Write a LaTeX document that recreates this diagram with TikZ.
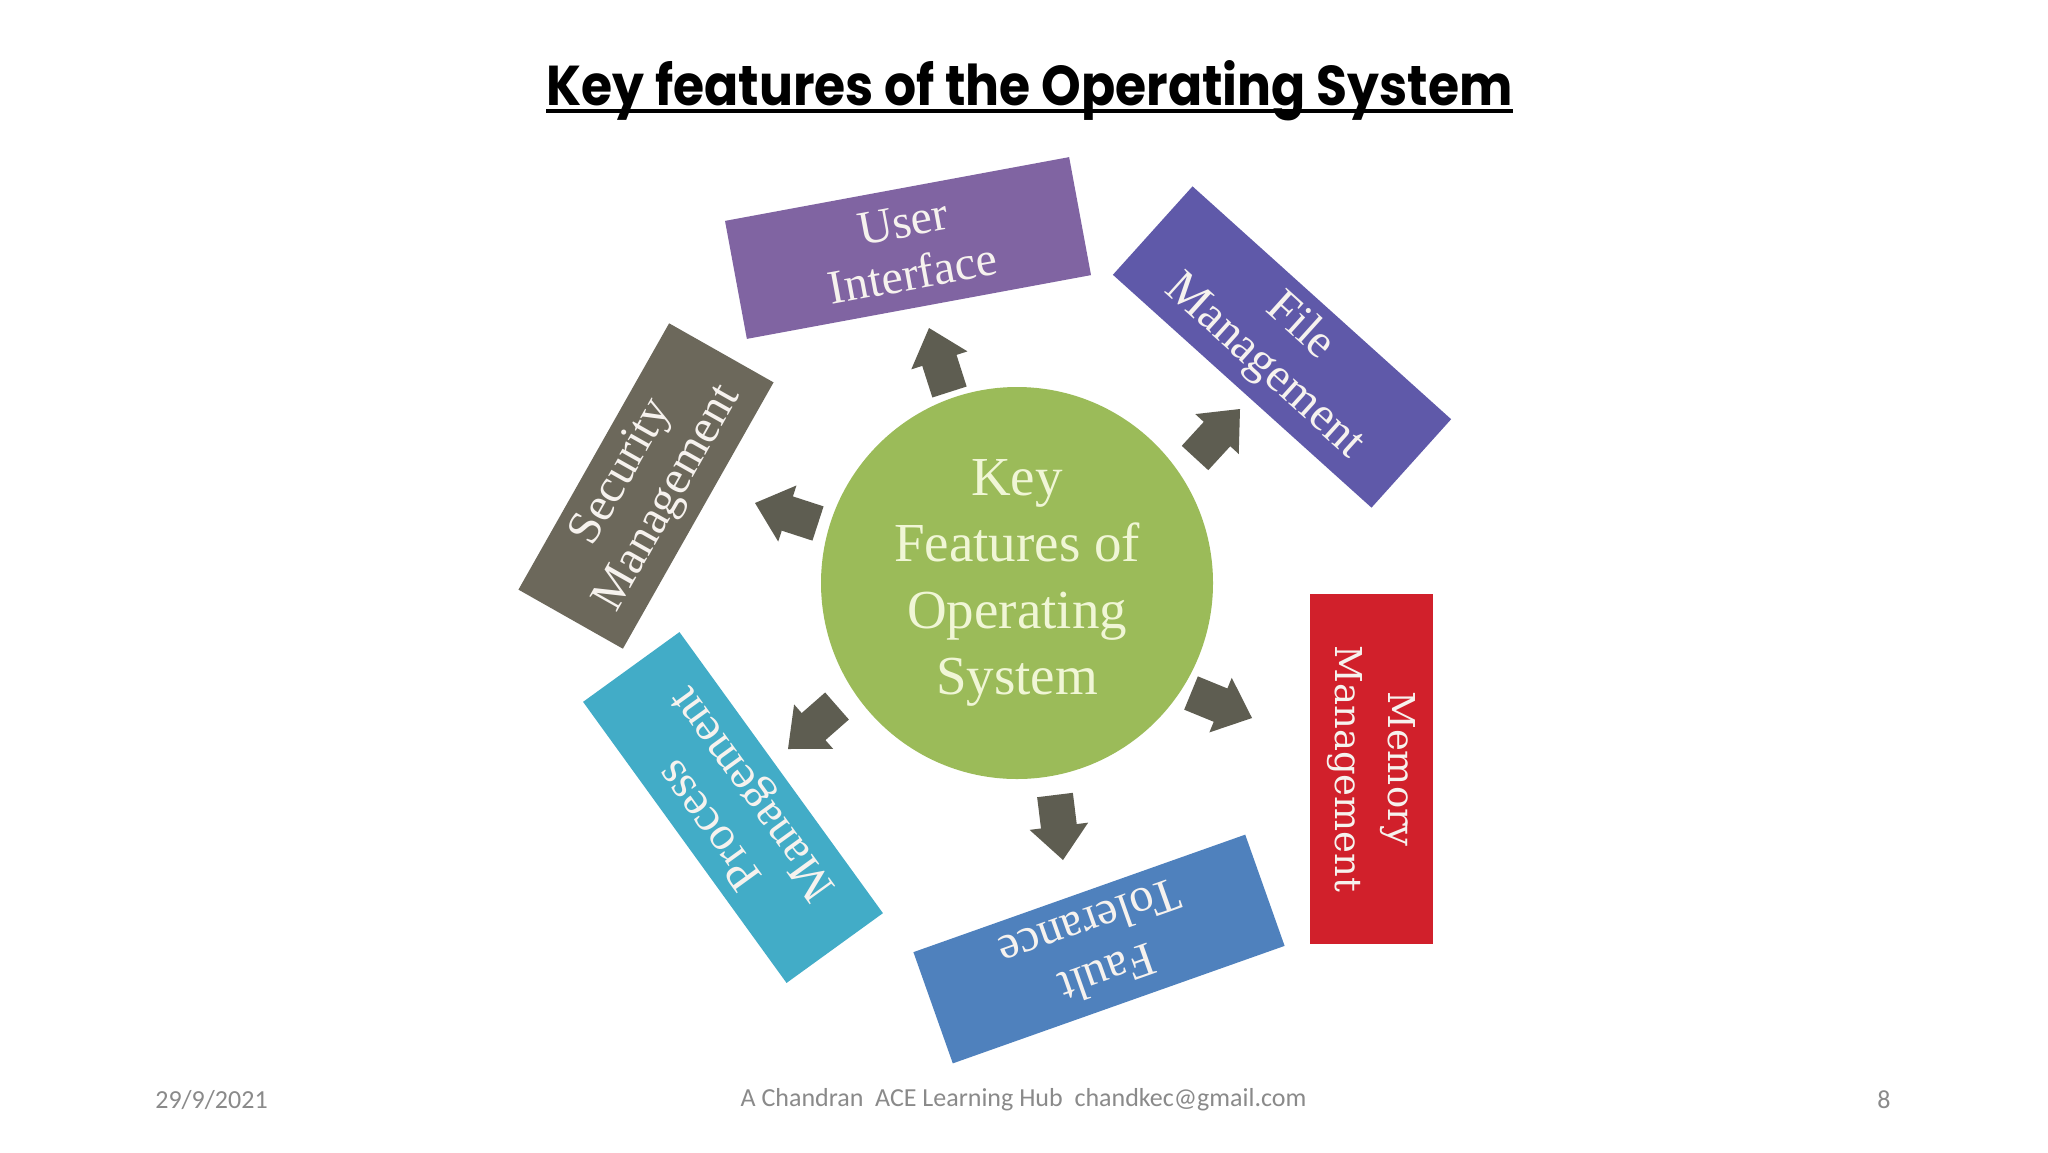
\documentclass[tikz,border=0pt]{standalone}
\usepackage{fontspec}
\usepackage{graphicx}
\usetikzlibrary{calc}
\setmainfont{Liberation Serif}
\newfontfamily\titlefont{Poppins}
\newfontfamily\footfont{Carlito}
\newfontfamily\memfont{DejaVu Serif}
\definecolor{uicol}{HTML}{8064A2}
\definecolor{filecol}{HTML}{5F59A9}
\definecolor{memcol}{HTML}{D1202B}
\definecolor{faultcol}{HTML}{4F81BD}
\definecolor{proccol}{HTML}{42ACC7}
\definecolor{seccol}{HTML}{6C685B}
\definecolor{arrcol}{HTML}{5E5D51}
\definecolor{circcol}{HTML}{9BBB59}
\definecolor{boxtext}{HTML}{F6F2EE}
\definecolor{circtext}{HTML}{F0F6D6}
\definecolor{foottext}{HTML}{8A8A8A}
\newcommand{\blkarrow}[2]{%
  \coordinate (#1hb) at ($(#2)!17pt!(#1)$);
  \fill[arrcol] ($(#1)!9pt!90:(#2)$) -- ($(#1hb)!9pt!90:(#2)$) -- ($(#1hb)!14.75pt!90:(#2)$) -- (#2)
    -- ($(#1hb)!14.75pt!-90:(#2)$) -- ($(#1hb)!9pt!-90:(#2)$) -- ($(#1)!9pt!-90:(#2)$) -- cycle;}
\begin{document}
\begin{tikzpicture}[x=0.5pt, y=-0.5pt,
  box/.style={rectangle, inner sep=0pt, text=boxtext, align=center,
    font=\fontsize{24}{26.5}\selectfont, minimum width=175pt, minimum height=60pt},
  foot/.style={inner sep=0pt, text=foottext, font=\footfont\fontsize{13}{15}\selectfont}]
\useasboundingbox (0,0) rectangle (2048,1152);
\fill[white] (0,0) rectangle (2048,1152);

% title
\node[inner sep=0pt, anchor=base] (ttl) at (1029.5,105)
  {\resizebox{483pt}{22.5pt}{\titlefont\bfseries Key features of the Operating System}};
\draw[line width=1.6pt] ([yshift=-3pt]ttl.base west) -- ([yshift=-3pt]ttl.base east);

% centre
\node[circle, fill=circcol, minimum size=196pt, inner sep=0pt, text=circtext, align=center,
  font=\fontsize{27.5}{33.3}\selectfont] (c) at (1017,583) {Key\\Features of\\Operating\\System};

% boxes
\node[box, fill=uicol, rotate=10.5] (ui) at (908,248) {User\\Interface};
\node[box, fill=filecol, rotate=-42, minimum width=174pt, minimum height=59.5pt] (fm) at (1282,347) {File\\Management};
\node[box, fill=memcol, rotate=-90, minimum width=175pt, minimum height=61.5pt,
  font=\memfont\fontsize{18.5}{26.5}\selectfont] (mm) at (1371.5,769) {Memory\\Management};
\node[box, fill=faultcol, rotate=199.5, minimum width=176pt, minimum height=59pt] (ft) at (1099,949) {Fault\\Tolerance};
\node[box, fill=proccol, rotate=125.9, minimum width=173.5pt, minimum height=59.5pt] (pm) at (733,807.5) {Process\\Management};
\node[box, fill=seccol, rotate=60.5, minimum width=153pt, minimum height=60pt] (sm) at (646,486) {Security\\Management};

% arrows
\coordinate (a1s) at (949.5,392); \coordinate (a1t) at (929,328);
\coordinate (a2s) at (1195,458);  \coordinate (a2t) at (1240,409);
\coordinate (a3s) at (1191,693);  \coordinate (a3t) at (1252,718);
\coordinate (a4s) at (1055,795);  \coordinate (a4t) at (1063,860);
\coordinate (a5s) at (837,706);   \coordinate (a5t) at (788,749);
\coordinate (a6s) at (818,523.5); \coordinate (a6t) at (755,503);
\blkarrow{a1s}{a1t}
\blkarrow{a2s}{a2t}
\blkarrow{a3s}{a3t}
\blkarrow{a4s}{a4t}
\blkarrow{a5s}{a5t}
\blkarrow{a6s}{a6t}

% footer
\node[foot] (date) at (211.5,1100) {29/9/2021};
\node[foot] (auth) at (1023.5,1100) {A Chandran\ \ ACE Learning Hub\ \ chandkec@gmail.com};
\node[foot] (page) at (1884,1100) {8};
\end{tikzpicture}
\end{document}
